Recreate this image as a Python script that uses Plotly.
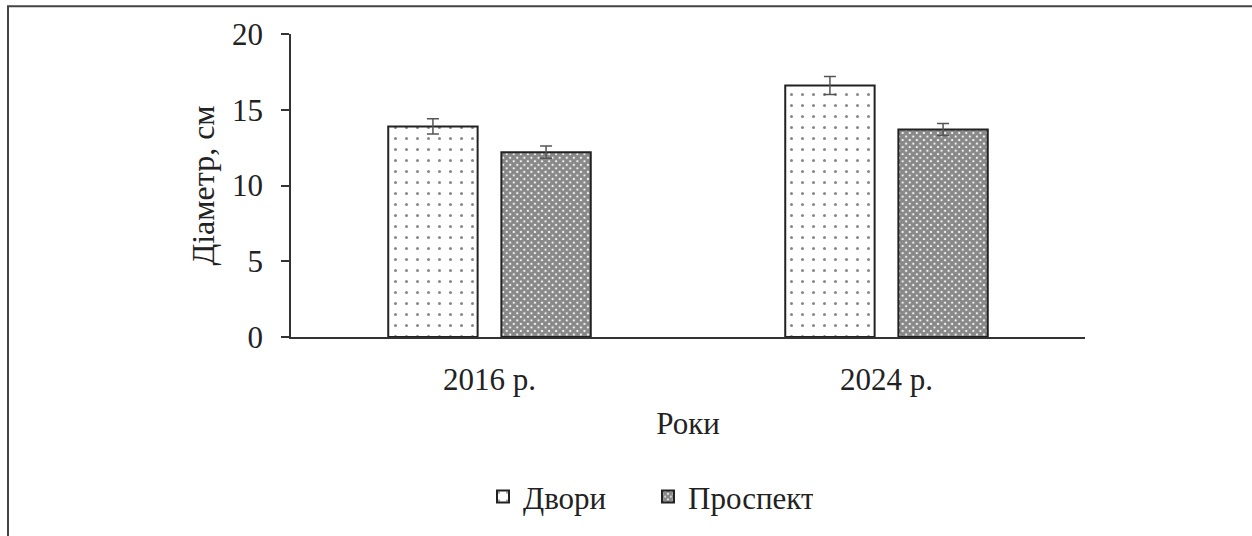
import plotly.graph_objects as go

categories = ["2016 р.", "2024 р."]
dvory = [13.9, 16.6]
dvory_err = [0.5, 0.6]
prospekt = [12.2, 13.7]
prospekt_err = [0.4, 0.4]
y_ticks = [0, 5, 10, 15, 20]

FONT = "Liberation Serif, Times New Roman, serif"
FS = 31

fig = go.Figure()
fig.add_trace(go.Bar(
    name="Двори", x=categories, y=dvory,
    error_y=dict(type="data", array=dvory_err, color="#555", thickness=1.5, width=6),
    marker=dict(color="white", line=dict(color="#222", width=2),
                pattern=dict(shape=".", fgcolor="#111", bgcolor="white", size=11, solidity=0.06)),
))
fig.add_trace(go.Bar(
    name="Проспект", x=categories, y=prospekt,
    error_y=dict(type="data", array=prospekt_err, color="#555", thickness=1.5, width=6),
    marker=dict(color="white", line=dict(color="#222", width=2),
                pattern=dict(shape="x", fgcolor="#111", bgcolor="white", size=5, solidity=0.85)),
))

L, R, T, B = 291, 167, 34, 197
W, H = 1252, 536
pw, ph = W - L - R, H - T - B

fig.update_layout(
    width=W, height=H,
    margin=dict(l=L, r=R, t=T, b=B),
    paper_bgcolor="white", plot_bgcolor="white",
    barmode="group", bargap=0.43, bargroupgap=0.21,
    font=dict(family=FONT, size=FS, color="#222"),
    showlegend=True,
    legend=dict(orientation="h", x=(483 - L) / pw, xanchor="left",
                y=(H - B - 500) / ph, yanchor="middle",
                font=dict(family=FONT, size=FS, color="#222"),
                itemwidth=30, traceorder="normal",
                entrywidth=120, entrywidthmode="pixels"),
    xaxis=dict(showline=True, linecolor="#333", linewidth=1.5, ticks="",
               tickfont=dict(family=FONT, size=FS, color="#222"), ticklabelstandoff=14,
               title=dict(text="Роки", font=dict(family=FONT, size=FS, color="#222"), standoff=16),
               showgrid=False, zeroline=False),
    yaxis=dict(range=[0, 20], tickvals=y_ticks, showline=True, linecolor="#333", linewidth=1.5,
               ticks="outside", ticklen=8, tickcolor="#333", tickwidth=1.5,
               tickfont=dict(family=FONT, size=FS, color="#222"), ticklabelstandoff=12,
               title=dict(text="Діаметр, см", font=dict(family=FONT, size=32, color="#222"), standoff=8),
               showgrid=False, zeroline=False),
    shapes=[dict(type="rect", xref="paper", yref="paper",
                 x0=(8 - L) / pw, x1=(W + 10 - L) / pw,
                 y0=(H - B - (H + 10)) / ph, y1=1 + (T - 6) / ph,
                 line=dict(color="#444", width=2), fillcolor="rgba(0,0,0,0)", layer="below")],
)

fig.write_html("out.html", config={"displayModeBar": False},
               post_script="document.body.style.margin='0';")
